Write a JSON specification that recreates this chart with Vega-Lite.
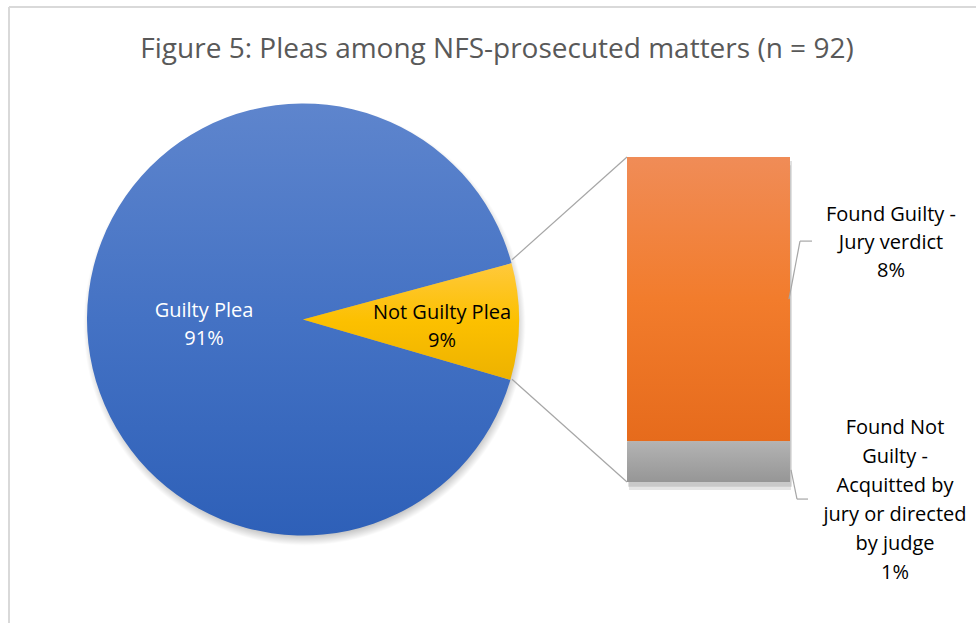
{
  "$schema": "https://vega.github.io/schema/vega-lite/v6.json",
  "width": 976,
  "height": 623,
  "autosize": {"type": "none"},
  "padding": 0,
  "background": "white",
  "view": {"stroke": null},
  "config": {"font": "Open Sans"},
  "datasets": {
    "pie": [
      {"plea": "Guilty Plea", "n": 84},
      {"plea": "Not Guilty Plea", "n": 8}
    ],
    "bar": [
      {"outcome": "Found Guilty - Jury verdict", "wrap": "Found Guilty -|Jury verdict", "n": 7},
      {"outcome": "Found Not Guilty - Acquitted by jury or directed by judge", "wrap": "Found Not|Guilty -|Acquitted by|jury or directed|by judge", "n": 1}
    ]
  },
  "layer": [
    {
      "data": {"values": [{}]},
      "mark": {"type": "rule", "color": "#d9d9d9", "strokeWidth": 2},
      "encoding": {
        "x": {"datum": 9, "type": "quantitative", "scale": {"domain": [0, 976], "nice": false, "zero": false}, "axis": null},
        "y": {"datum": 11.69, "type": "quantitative", "scale": {"domain": [-3.471, 11.865], "nice": false, "zero": false}, "axis": null},
        "y2": {"datum": -3.471}
      }
    },
    {
      "data": {"values": [{}]},
      "mark": {"type": "rule", "color": "#d9d9d9", "strokeWidth": 2},
      "encoding": {
        "x": {"datum": 9, "type": "quantitative"},
        "x2": {"datum": 976},
        "y": {"datum": 11.69, "type": "quantitative"}
      }
    },
    {
      "data": {"values": [{}]},
      "mark": {"type": "text", "fontSize": 28, "color": "#595959", "align": "center", "baseline": "middle"},
      "encoding": {
        "x": {"datum": 497, "type": "quantitative"},
        "y": {"datum": 10.63, "type": "quantitative"},
        "text": {"value": "Figure 5: Pleas among NFS-prosecuted matters (n = 92)"}
      }
    },
    {
      "data": {"values": [{}]},
      "mark": {"type": "arc", "outerRadius": 221, "theta": 0, "theta2": 6.2832,
        "fill": {"gradient": "radial", "x1": 0.5, "y1": 0.5, "r1": 0, "x2": 0.5, "y2": 0.5, "r2": 0.5,
          "stops": [{"offset": 0, "color": "rgba(0,0,0,0.4)"}, {"offset": 0.93, "color": "rgba(0,0,0,0.35)"}, {"offset": 1, "color": "rgba(0,0,0,0)"}]}},
      "encoding": {
        "x": {"datum": 304.5, "type": "quantitative"},
        "y": {"datum": 3.88, "type": "quantitative"}
      }
    },
    {
      "data": {"name": "pie"},
      "mark": {"type": "arc", "outerRadius": 216},
      "encoding": {
        "x": {"datum": 303, "type": "quantitative"},
        "y": {"datum": 4, "type": "quantitative"},
        "theta": {"field": "n", "type": "quantitative", "stack": true, "scale": {"domain": [0, 92], "range": [1.8535, 8.1367]}},
        "color": {
          "condition": {"test": "datum.plea === 'Guilty Plea'",
            "value": {"gradient": "linear", "x1": 0, "y1": 0, "x2": 0, "y2": 1, "stops": [{"offset": 0, "color": "#5e85cd"}, {"offset": 0.5, "color": "#4472c4"}, {"offset": 1, "color": "#2e60b8"}]}},
          "value": {"gradient": "linear", "x1": 0, "y1": 0, "x2": 0, "y2": 1, "stops": [{"offset": 0, "color": "#ffc93c"}, {"offset": 0.5, "color": "#fcc000"}, {"offset": 1, "color": "#edb200"}]}
        }
      }
    },
    {
      "data": {"name": "pie"},
      "transform": [
        {"calculate": "[datum.plea, format(datum.n / 92, '.0%')]", "as": "label"}
      ],
      "mark": {"type": "text", "radius": 99, "fontSize": 20, "lineHeight": 28, "align": "center", "baseline": "middle", "dy": -8, "color": "white"},
      "encoding": {
        "x": {"datum": 303, "type": "quantitative"},
        "y": {"datum": 4, "type": "quantitative"},
        "theta": {"field": "n", "type": "quantitative", "stack": true},
        "text": {"condition": {"test": "datum.plea === 'Guilty Plea'", "field": "label"}, "value": ""}
      }
    },
    {
      "data": {"name": "pie"},
      "transform": [
        {"calculate": "[datum.plea, format(datum.n / 92, '.0%')]", "as": "label"}
      ],
      "mark": {"type": "text", "radius": 139, "fontSize": 20, "lineHeight": 28, "align": "center", "baseline": "middle", "dy": -8, "color": "black"},
      "encoding": {
        "x": {"datum": 303, "type": "quantitative"},
        "y": {"datum": 4, "type": "quantitative"},
        "theta": {"field": "n", "type": "quantitative", "stack": true},
        "text": {"condition": {"test": "datum.plea === 'Not Guilty Plea'", "field": "label"}, "value": ""}
      }
    },
    {
      "data": {"values": [{}]},
      "mark": {"type": "rule", "color": "#a6a6a6", "strokeWidth": 1.2},
      "encoding": {
        "x": {"datum": 512, "type": "quantitative"},
        "y": {"datum": 5.47, "type": "quantitative"},
        "x2": {"datum": 627},
        "y2": {"datum": 8}
      }
    },
    {
      "data": {"values": [{}]},
      "mark": {"type": "rule", "color": "#a6a6a6", "strokeWidth": 1.2},
      "encoding": {
        "x": {"datum": 512, "type": "quantitative"},
        "y": {"datum": 2.53, "type": "quantitative"},
        "x2": {"datum": 627},
        "y2": {"datum": 0}
      }
    },
    {
      "data": {"values": [{}]},
      "mark": {"type": "rect", "fill": "rgba(0,0,0,0.12)"},
      "encoding": {
        "x": {"datum": 628, "type": "quantitative"},
        "x2": {"datum": 792},
        "y": {"datum": -0.12, "type": "quantitative"},
        "y2": {"datum": 7.9}
      }
    },
    {
      "data": {"values": [{}]},
      "mark": {"type": "rect", "fill": "rgba(0,0,0,0.1)"},
      "encoding": {
        "x": {"datum": 629, "type": "quantitative"},
        "x2": {"datum": 791},
        "y": {"datum": -0.2, "type": "quantitative"},
        "y2": {"datum": 7.8}
      }
    },
    {
      "data": {"name": "bar"},
      "transform": [
        {"stack": "n", "groupby": [], "sort": [{"field": "outcome", "order": "descending"}], "as": ["y0", "y1"]}
      ],
      "mark": {"type": "rect"},
      "encoding": {
        "x": {"datum": 627, "type": "quantitative"},
        "x2": {"datum": 790},
        "y": {"field": "y0", "type": "quantitative"},
        "y2": {"field": "y1"},
        "color": {
          "condition": {"test": "datum.n === 7",
            "value": {"gradient": "linear", "x1": 0, "y1": 0, "x2": 0, "y2": 1, "stops": [{"offset": 0, "color": "#f08c57"}, {"offset": 0.5, "color": "#f27c2c"}, {"offset": 1, "color": "#e66b1c"}]}},
          "value": {"gradient": "linear", "x1": 0, "y1": 0, "x2": 0, "y2": 1, "stops": [{"offset": 0, "color": "#b3b3b3"}, {"offset": 1, "color": "#969696"}]}
        }
      }
    },
    {
      "data": {"values": [{}]},
      "mark": {"type": "rule", "color": "#a6a6a6", "strokeWidth": 1.2},
      "encoding": {
        "x": {"datum": 789, "type": "quantitative"},
        "y": {"datum": 4.5, "type": "quantitative"},
        "x2": {"datum": 800},
        "y2": {"datum": 5.93}
      }
    },
    {
      "data": {"values": [{}]},
      "mark": {"type": "rule", "color": "#a6a6a6", "strokeWidth": 1.2},
      "encoding": {
        "x": {"datum": 800, "type": "quantitative"},
        "y": {"datum": 5.93, "type": "quantitative"},
        "x2": {"datum": 812}
      }
    },
    {
      "data": {"values": [{}]},
      "mark": {"type": "rule", "color": "#a6a6a6", "strokeWidth": 1.2},
      "encoding": {
        "x": {"datum": 791, "type": "quantitative"},
        "y": {"datum": 0.3, "type": "quantitative"},
        "x2": {"datum": 797},
        "y2": {"datum": -0.42}
      }
    },
    {
      "data": {"values": [{}]},
      "mark": {"type": "rule", "color": "#a6a6a6", "strokeWidth": 1.2},
      "encoding": {
        "x": {"datum": 797, "type": "quantitative"},
        "y": {"datum": -0.42, "type": "quantitative"},
        "x2": {"datum": 808}
      }
    },
    {
      "data": {"name": "bar"},
      "transform": [
        {"filter": "datum.n === 7"},
        {"calculate": "split(datum.wrap + '|' + format(datum.n / 92, '.0%'), '|')", "as": "label"}
      ],
      "mark": {"type": "text", "fontSize": 20, "lineHeight": 28, "align": "center", "baseline": "middle", "color": "black"},
      "encoding": {
        "x": {"datum": 891, "type": "quantitative"},
        "y": {"datum": 6.57, "type": "quantitative"},
        "text": {"field": "label"}
      }
    },
    {
      "data": {"name": "bar"},
      "transform": [
        {"filter": "datum.n === 1"},
        {"calculate": "split(datum.wrap + '|' + format(datum.n / 92, '.0%'), '|')", "as": "label"}
      ],
      "mark": {"type": "text", "fontSize": 20, "lineHeight": 29, "align": "center", "baseline": "middle", "color": "black"},
      "encoding": {
        "x": {"datum": 895, "type": "quantitative"},
        "y": {"datum": 1.33, "type": "quantitative"},
        "text": {"field": "label"}
      }
    }
  ]
}
